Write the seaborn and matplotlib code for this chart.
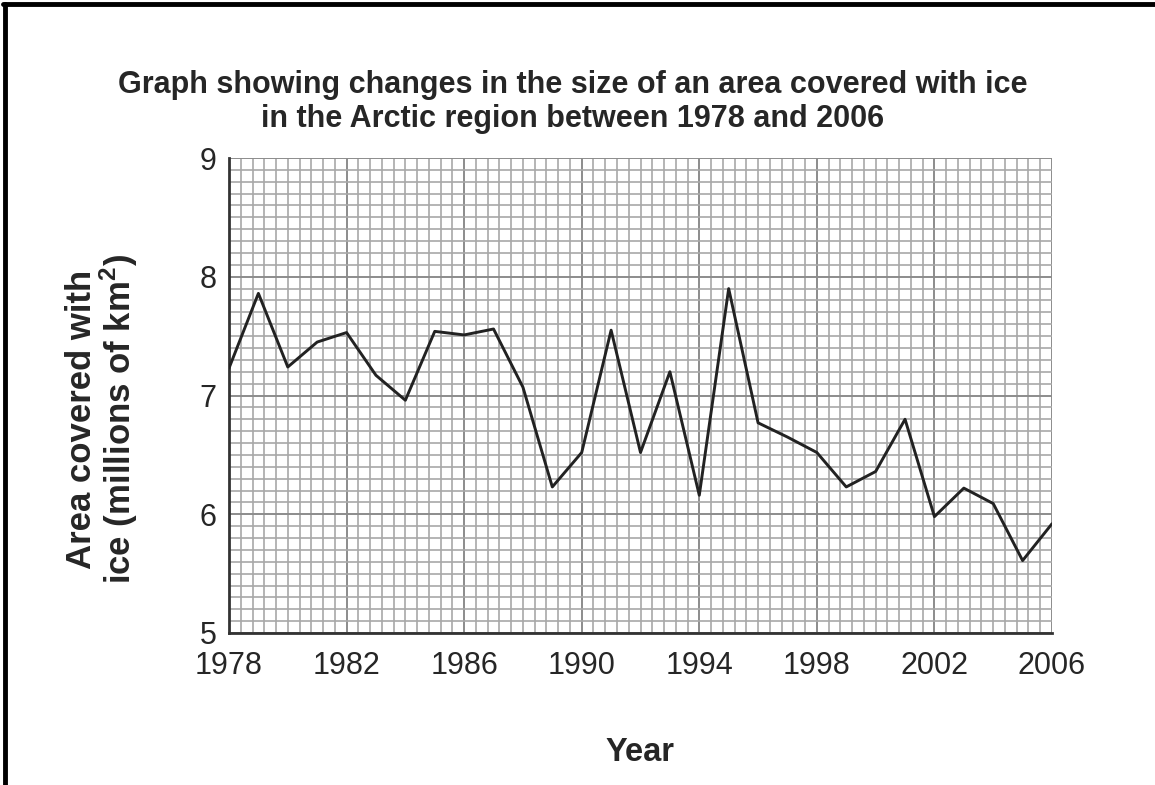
import matplotlib
matplotlib.use("Agg")
import matplotlib.pyplot as plt
import matplotlib.ticker as mticker
from matplotlib.lines import Line2D
import pandas as pd
import seaborn as sns

YEARS = list(range(1978, 2007))
ICE_AREA = [7.23, 7.86, 7.24, 7.45, 7.53, 7.17, 6.96, 7.54, 7.51, 7.56,
            7.07, 6.23, 6.52, 7.55, 6.52, 7.20, 6.16, 7.90, 6.77, 6.65,
            6.52, 6.23, 6.36, 6.80, 5.98, 6.22, 6.09, 5.61, 5.92]
X_TICKS = list(range(1978, 2007, 4))
Y_TICKS = [5, 6, 7, 8, 9]

df = pd.DataFrame({"year": YEARS, "area": ICE_AREA})

sns.set_style("white")
plt.rcParams["font.family"] = ["Liberation Sans", "DejaVu Sans"]
plt.rcParams["mathtext.fontset"] = "custom"
plt.rcParams["mathtext.rm"] = "Liberation Sans:bold"
plt.rcParams["mathtext.bf"] = "Liberation Sans:bold"

fig = plt.figure(figsize=(11.55, 7.85), dpi=100)
ax = fig.add_axes([229 / 1155, 1 - 633 / 785, (1052 - 229) / 1155, (633 - 158) / 785])

sns.lineplot(data=df, x="year", y="area", ax=ax, color="#222222", linewidth=2.1, zorder=5)

ax.set_xlim(1978, 2006)
ax.set_ylim(5, 9)
ax.set_xticks(X_TICKS)
ax.set_yticks(Y_TICKS)
ax.xaxis.set_minor_locator(mticker.MultipleLocator(0.4))
ax.yaxis.set_minor_locator(mticker.MultipleLocator(0.1))
ax.grid(which="major", color="#8c8c8c", linewidth=1.4, zorder=0)
ax.grid(which="minor", color="#a8a8a8", linewidth=1.2, zorder=0)
ax.set_axisbelow(True)

for side in ["top", "right"]:
    ax.spines[side].set_visible(False)
for side in ["left", "bottom"]:
    ax.spines[side].set_color("#333333")
    ax.spines[side].set_linewidth(2.0)

ax.tick_params(which="major", direction="inout", length=10, width=1.5, color="#333333",
               labelsize=22, pad=4)
ax.tick_params(which="minor", length=0)
ax.tick_params(axis="x", pad=8)

ax.set_xlabel("Year", fontsize=23.5, fontweight="bold", labelpad=40)
ax.set_ylabel("Area covered with\nice (millions of km$^{2}$)", fontsize=25,
              fontweight="bold", linespacing=1.0)
ax.yaxis.set_label_coords(-0.108, 0.45)

fig.text(0.496, 1 - 102 / 785,
         "Graph showing changes in the size of an area covered with ice\n"
         "in the Arctic region between 1978 and 2006",
         ha="center", va="center", fontsize=22, fontweight="bold", linespacing=1.2)

# page frame (top and left edges)
fig.add_artist(Line2D([0.003, 1.0], [0.995, 0.995], transform=fig.transFigure, color="black", linewidth=3.5))
fig.add_artist(Line2D([0.0045, 0.0045], [0.0, 0.995], transform=fig.transFigure, color="black", linewidth=3.5))

fig.savefig("out.png", dpi=100)
plt.close(fig)
